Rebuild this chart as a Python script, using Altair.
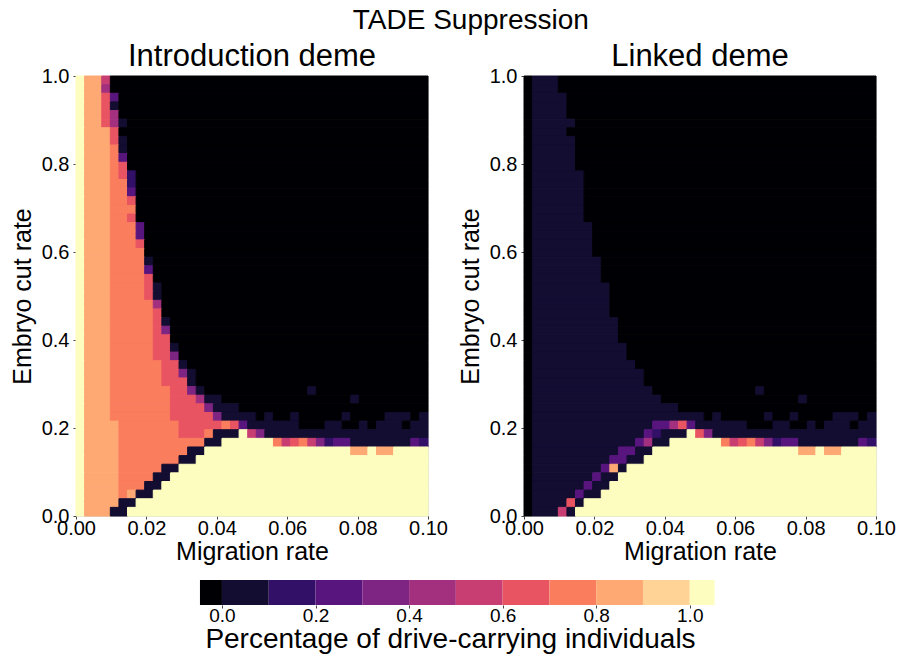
import altair as alt
import pandas as pd

FONT = "Liberation Sans"

# ---- colour levels (discrete magma, 12 steps) ----
level_codes = "0123456789ab"
level_colors = ["#000004", "#120d31", "#331067", "#59157e", "#7e2482", "#a3307e",
                "#c83e73", "#e95462", "#fa7d5e", "#fea973", "#fed395", "#fcfdbf"]
level_low = [-0.047, 0.0, 0.1, 0.2, 0.3, 0.4, 0.5, 0.6, 0.7, 0.8, 0.9, 1.0]
level_high = [0.0, 0.1, 0.2, 0.3, 0.4, 0.5, 0.6, 0.7, 0.8, 0.9, 1.0, 1.053]

migration_ticks = [0.0, 0.02, 0.04, 0.06, 0.08, 0.10]
cut_ticks = [0.0, 0.2, 0.4, 0.6, 0.8, 1.0]
colorbar_ticks = [0.0, 0.2, 0.4, 0.6, 0.8, 1.0]
n_migration = 41      # grid columns (migration rate 0 .. 0.1)
n_cut = 51            # grid rows (embryo cut rate 1.0 at top .. 0.0 at bottom)
migration_max = 0.1
cut_max = 1.0

# each row: runs of "level:count", top row = cut rate 1.0
intro_rows = [
    "b:1 9:2 6:1 0:37",
    "b:1 9:2 5:1 0:37",
    "b:1 9:2 7:1 3:1 0:36",
    "b:1 9:2 7:1 1:1 0:36",
    "b:1 9:2 7:1 5:1 0:36",
    "b:1 9:2 7:1 5:1 1:1 0:35",
    "b:1 9:3 7:1 0:36",
    "b:1 9:3 7:1 1:1 0:35",
    "b:1 9:3 8:1 1:1 0:35",
    "b:1 9:3 8:1 3:1 0:35",
    "b:1 9:3 8:1 7:1 0:35",
    "b:1 9:3 8:1 7:1 2:1 0:34",
    "b:1 9:3 8:2 2:1 0:34",
    "b:1 9:3 8:2 3:1 0:34",
    "b:1 9:3 8:2 7:1 0:34",
    "b:1 9:3 8:3 0:34",
    "b:1 9:3 8:2 7:1 0:34",
    "b:1 9:3 8:3 3:1 0:33",
    "b:1 9:3 8:3 3:1 0:33",
    "b:1 9:3 8:3 7:1 0:33",
    "b:1 9:3 8:4 0:33",
    "b:1 9:3 8:4 1:1 0:32",
    "b:1 9:3 8:4 3:1 0:32",
    "b:1 9:3 8:4 7:1 0:32",
    "b:1 9:3 8:4 7:1 1:1 0:31",
    "b:1 9:3 8:4 7:1 1:1 0:31",
    "b:1 9:3 8:5 5:1 0:31",
    "b:1 9:3 8:5 7:1 0:31",
    "b:1 9:3 8:5 7:1 1:1 0:30",
    "b:1 9:3 8:5 7:1 4:1 0:30",
    "b:1 9:3 8:5 7:2 0:30",
    "b:1 9:3 8:5 7:2 1:1 0:29",
    "b:1 9:3 8:5 7:2 4:1 0:29",
    "b:1 9:3 8:6 7:2 1:1 0:28",
    "b:1 9:3 8:6 7:2 4:1 1:1 0:27",
    "b:1 9:3 8:6 7:3 1:1 0:27",
    "b:1 9:3 8:7 7:2 4:1 1:1 0:12 1:1 0:13",
    "b:1 9:3 8:7 7:3 5:1 1:2 0:15 1:1 0:8",
    "b:1 9:3 8:7 7:4 4:1 1:3 0:22",
    "b:1 9:3 8:7 7:5 4:1 1:4 0:1 1:1 0:2 1:1 0:5 1:1 0:4 1:3 0:1 1:1",
    "b:1 9:4 8:7 7:5 8:1 7:1 3:1 1:6 0:3 1:2 0:2 1:1 0:1 1:3 0:1 1:2",
    "b:1 9:4 8:7 7:3 8:1 1:3 b:1 6:1 4:1 1:19",
    "b:1 9:4 8:10 1:2 b:6 8:1 6:1 7:1 8:1 6:1 4:1 2:1 3:2 1:7 3:1 2:1",
    "b:1 9:4 8:8 1:2 b:17 9:2 b:1 9:2 b:4",
    "b:1 9:4 8:7 1:2 b:27",
    "b:1 9:4 8:5 1:2 b:29",
    "b:1 9:4 8:4 1:2 b:30",
    "b:1 9:4 8:3 1:2 b:31",
    "b:1 9:4 8:1 9:1 1:2 b:32",
    "b:1 9:4 1:2 b:34",
    "b:1 9:3 1:2 b:35",
]

linked_rows = [
    "0:1 1:3 0:37",
    "0:1 1:3 0:37",
    "0:1 1:4 0:36",
    "0:1 1:4 0:36",
    "0:1 1:4 0:36",
    "0:1 1:5 0:35",
    "0:1 1:4 0:36",
    "0:1 1:5 0:35",
    "0:1 1:5 0:35",
    "0:1 1:5 0:35",
    "0:1 1:5 0:35",
    "0:1 1:6 0:34",
    "0:1 1:6 0:34",
    "0:1 1:6 0:34",
    "0:1 1:6 0:34",
    "0:1 1:6 0:34",
    "0:1 1:6 0:34",
    "0:1 1:7 0:33",
    "0:1 1:7 0:33",
    "0:1 1:7 0:33",
    "0:1 1:7 0:33",
    "0:1 1:8 0:32",
    "0:1 1:8 0:32",
    "0:1 1:8 0:32",
    "0:1 1:9 0:31",
    "0:1 1:9 0:31",
    "0:1 1:9 0:31",
    "0:1 1:9 0:31",
    "0:1 1:10 0:30",
    "0:1 1:10 0:30",
    "0:1 1:10 0:30",
    "0:1 1:11 0:29",
    "0:1 1:11 0:29",
    "0:1 1:12 0:28",
    "0:1 1:13 0:27",
    "0:1 1:13 0:27",
    "0:1 1:14 0:12 1:1 0:13",
    "0:1 1:15 0:16 1:1 0:8",
    "0:1 1:17 0:23",
    "0:1 1:20 0:1 1:1 0:5 1:1 0:2 1:1 0:4 1:3 0:1 1:1",
    "0:1 1:14 3:2 5:1 7:1 3:1 1:6 0:3 1:2 0:2 1:1 0:1 1:3 0:1 1:2",
    "0:1 1:13 3:1 2:1 1:3 b:1 7:1 4:1 1:19",
    "0:1 1:12 3:1 5:1 1:2 b:6 8:1 6:1 7:1 8:1 6:1 4:1 2:1 3:2 1:7 3:1 2:1",
    "0:1 1:10 3:2 1:2 b:17 9:2 b:1 9:2 b:4",
    "0:1 1:9 3:2 1:2 b:27",
    "0:1 1:8 3:1 9:1 1:1 b:29",
    "0:1 1:7 3:1 1:2 b:30",
    "0:1 1:6 3:1 1:2 b:31",
    "0:1 1:5 3:1 1:2 b:32",
    "0:1 1:4 7:1 1:1 b:34",
    "0:1 1:3 6:1 1:1 b:35",
]


def runs_table(rows):
    recs = []
    for r, row in enumerate(rows):
        c = 0
        for tok in row.split():
            code, n = tok.split(":")
            n = int(n)
            if c >= n_migration:
                break
            n = min(n, n_migration - c)
            recs.append({"row": r, "c0": c, "c1": c + n, "level": level_codes.index(code)})
            c += n
        if c < n_migration:
            recs.append({"row": r, "c0": c, "c1": n_migration, "level": recs[-1]["level"]})
    return pd.DataFrame(recs)


color_scale = alt.Scale(domain=list(range(12)), range=level_colors)

axis_kw = dict(grid=False, domain=False, tickSize=3, tickColor="#444444", tickWidth=1,
               labelFont=FONT, labelColor="black",
               titleFont=FONT, titleFontWeight="normal", titleColor="black",
               labelFlush=False, labelOverlap=False)


def heatmap(rows, title):
    return alt.Chart(runs_table(rows)).transform_calculate(
        x0=f"datum.c0 * {migration_max} / {n_migration}",
        x1=f"datum.c1 * {migration_max} / {n_migration}",
        y0=f"{cut_max} - (datum.row + 1) * {cut_max} / {n_cut}",
        y1=f"{cut_max} - datum.row * {cut_max} / {n_cut}",
    ).mark_rect(strokeWidth=1).encode(
        x=alt.X("x0:Q", scale=alt.Scale(domain=[0, migration_max], nice=False, zero=False),
                axis=alt.Axis(values=migration_ticks, format=".2f", title="Migration rate",
                              labelFontSize=20, labelPadding=-1, titlePadding=1,
                              titleFontSize=25, **axis_kw)),
        x2="x1:Q",
        y=alt.Y("y0:Q", scale=alt.Scale(domain=[0, cut_max], nice=False, zero=False),
                axis=alt.Axis(values=cut_ticks, format=".1f", title="Embryo cut rate",
                              labelFontSize=20, labelPadding=4, titlePadding=6,
                              titleFontSize=25, **axis_kw)),
        y2="y1:Q",
        color=alt.Color("level:O", scale=color_scale, legend=None),
        stroke=alt.Stroke("level:O", scale=color_scale, legend=None),
    ).properties(
        width=352, height=440,
        title=alt.TitleParams(title, fontSize=31, fontWeight="normal", font=FONT,
                              anchor="middle", frame="group", color="black", offset=-7),
    )


left = heatmap(intro_rows, "Introduction deme")
right = heatmap(linked_rows, "Linked deme")

cbar_df = pd.DataFrame({"low": level_low, "high": level_high, "level": list(range(12))})
cbar = alt.Chart(cbar_df).mark_rect().encode(
    x=alt.X("low:Q", scale=alt.Scale(domain=[-0.312, 1.396], nice=False, zero=False),
            axis=alt.Axis(values=colorbar_ticks, format=".1f",
                          title="Percentage of drive-carrying individuals",
                          titleX=374, titleFontSize=28, labelFontSize=19,
                          labelPadding=-2, titlePadding=0, **axis_kw)),
    x2="high:Q",
    color=alt.Color("level:O", scale=color_scale, legend=None),
).properties(width=799, height=25, view=alt.ViewBackground(strokeOpacity=0))

top = alt.hconcat(left, right, spacing=96, bounds="flush")
chart = alt.vconcat(top, cbar, spacing=504, bounds="flush").properties(
    title=alt.TitleParams("TADE Suppression", fontSize=28, fontWeight="normal", font=FONT,
                          anchor="middle", color="black", offset=6, dx=18),
    padding={"left": 9, "top": 6, "right": 5, "bottom": 5},
    background="white",
).configure_view(stroke="#d9d9d9", strokeWidth=1)

chart.save("out.html", embed_options={"renderer": "svg", "actions": False})
